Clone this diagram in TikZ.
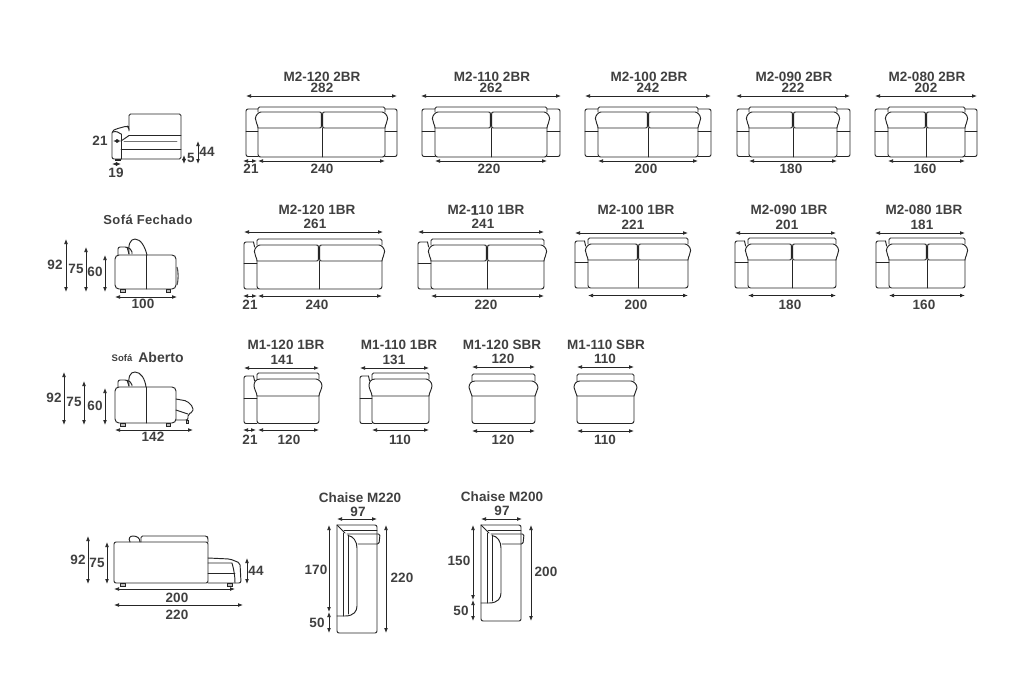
\documentclass[tikz,border=0pt]{standalone}
\usepackage{fontspec}
\usetikzlibrary{arrows.meta}
\setmainfont{Liberation Sans}
\newfontfamily\labfont{Liberation Sans Bold}[LetterSpace=0.3]
\newfontfamily\widefont{Liberation Sans Bold}[LetterSpace=3]
\newfontfamily\truebold{Liberation Sans Bold}[FakeBold=2,LetterSpace=0.3]
\newcounter{lbn}
\tikzset{
  ln/.style={draw=black!85,line width=0.95pt,line join=round,line cap=round},
  dimline/.style={draw=black!85,line width=0.75pt,{Latex[length=5pt,width=3.8pt]}-{Latex[length=5pt,width=3.8pt]}},
  lab/.style={inner sep=0pt,text=black!75,font=\fontsize{13.5}{14}\selectfont\labfont},
  foot/.style={draw=black!85,line width=0.7pt,fill=black!25}
}
% label
\newcommand\lb[3]{\stepcounter{lbn}\node[lab] (t\thelbn) at (#1,#2) {#3};}
% dimensions
\newcommand\dimh[3]{\draw[dimline] (#1,#3) -- (#2,#3);}
\newcommand\dimv[3]{\draw[dimline] (#1,#2) -- (#1,#3);}
% back + seat: IL, IR, ytop, ycush, yseat, ybot
\newcommand\backseat[6]{%
  \draw[ln,rounded corners=1.5pt] (#1,#4) -- (#1,#3) -- (#2,#3) -- (#2,#4);
  \draw[ln,rounded corners=2.5pt] (#1,#5) -- (#1,#6) -- (#2,#6) -- (#2,#5);
}
% two cushions: IL, M, IR, yc, ys, ybot
\newcommand\twocush[6]{%
  \draw[ln] (#2-.6,#5-2) -- (#2-.6,#4+2) .. controls (#2-.6,#4+.5) and (#2-1.2,#4) .. (#2-2.5,#4) -- (#1+3,#4)
     .. controls (#1+1,#4) and (#1-2.6,#4+3) .. (#1-2.6,#4+6.5) .. controls (#1-2.6,#4+10) and (#1,#5-3) .. (#1,#5)
     -- (#2-2.5,#5) .. controls (#2-1.2,#5) and (#2-.6,#5-.6) .. (#2-.6,#5-2);
  \draw[ln] (#2+.6,#5-2) -- (#2+.6,#4+2) .. controls (#2+.6,#4+.5) and (#2+1.2,#4) .. (#2+2.5,#4) -- (#3-3,#4)
     .. controls (#3-1,#4) and (#3+2.6,#4+3) .. (#3+2.6,#4+6.5) .. controls (#3+2.6,#4+10) and (#3,#5-3) .. (#3,#5)
     -- (#2+2.5,#5) .. controls (#2+1.2,#5) and (#2+.6,#5-.6) .. (#2+.6,#5-2);
  \draw[ln] (#2,#5) -- (#2,#6);
}
% one cushion: IL, IR, yc, ys
\newcommand\onecush[4]{%
  \draw[ln] (#1+3,#3) -- (#2-3,#3) .. controls (#2-1,#3) and (#2+3,#3+3) .. (#2+3,#3+6.5) .. controls (#2+3,#3+10) and (#2,#4-3) .. (#2,#4)
    -- (#1,#4) .. controls (#1,#4-3) and (#1-3,#3+10) .. (#1-3,#3+6.5) .. controls (#1-3,#3+3) and (#1-1,#3) .. (#1+3,#3) -- cycle;
}
% arm of a 2BR sofa: outer, inner
\newcommand\armtwo[2]{%
  \draw[ln,rounded corners=2pt] (#2,109) -- (#1,109) -- (#1,156.5) -- (#2,156.5);
  \draw[ln] (#1,131.5) -- (#2,131.5);
}
% arm of a 1BR sofa: L, IL, atop, adiv, ybot
\newcommand\armone[5]{%
  \draw[ln,rounded corners=2pt] (#2-3.5,#3) -- (#1,#3) -- (#1,#5) -- (#2,#5);
  \draw[ln] (#2-3.5,#3) -- (#2-2.4,#3+5);
  \draw[ln] (#1,#4) -- (#2,#4);
}
% complete 2BR
\newcommand\sofatwo[5]{%
  \armtwo{#1}{#2}\armtwo{#5}{#4}
  \backseat{#2}{#4}{107}{112}{128}{157}
  \twocush{#2}{#3}{#4}{112}{128}{157}
}
% complete 1BR with y shift
\newcommand\sofaone[5]{%
  \armone{#1}{#2}{#5+3}{#5+24.5}{#5+50}
  \backseat{#2}{#4}{#5}{#5+6}{#5+22}{#5+50}
  \twocush{#2}{#3}{#4}{#5+6}{#5+22}{#5+50}
}
% chaise: x0, y of left bottom, y bottom
\newcommand\chaise[3]{%
  \draw[ln,rounded corners=2pt] (#1,525) -- (#1+40,525) -- (#1+40,#3) -- (#1,#3) -- (#1,525);
  \draw[ln] (#1,525) -- (#1+8,533);
  \draw[ln] (#1+7,530) -- (#1+40,530);
  \draw[ln,rounded corners=1.5pt] (#1+10,534) -- (#1+43,534) -- (#1+42,544) -- (#1+21,544);
  \draw[ln] (#1+6,533) -- (#1+6,#2);
  \draw[ln] (#1+11,535) -- (#1+11,#2-2);
  \draw[ln] (#1+11,535.5) .. controls (#1+16,536) and (#1+20,541) .. (#1+20,548) -- (#1+20,#2-10)
     .. controls (#1+20,#2-5) and (#1+17,#2) .. (#1+8,#2) -- (#1,#2);
}
\begin{document}
\begin{tikzpicture}[x=1pt,y=-1pt]
\useasboundingbox (0,0) rectangle (1024,694);
\fill[white] (0,0) rectangle (1024,694);

% ---------- row 1
\lb{322}{77}{M2-120 2BR}\lb{322}{88}{282}
\dimh{246}{397}{96}
\sofatwo{246}{258}{322}{385}{397}
\dimh{243}{257}{161}\dimh{258}{385}{161}
\lb{251}{169}{21}\lb{322}{169}{240}

\lb{492}{77}{M2-110 2BR}\lb{491}{88}{262}
\dimh{421}{561}{96}
\sofatwo{422}{435}{491}{547}{560}
\dimh{435}{547}{161}\lb{489}{169}{220}

\lb{649}{77}{M2-100 2BR}\lb{648}{88}{242}
\dimh{585}{711}{96}
\sofatwo{585}{598}{648}{698}{711}
\dimh{598}{698}{161}\lb{646}{169}{200}

\lb{794}{77}{M2-090 2BR}\lb{793}{88}{222}
\dimh{736}{850}{96}
\sofatwo{737}{749}{793}{837}{850}
\dimh{749}{837}{161}\lb{791}{169}{180}

\lb{927}{77}{M2-080 2BR}\lb{926}{88}{202}
\dimh{875}{977}{96}
\sofatwo{875}{888}{926}{965}{977}
\dimh{888}{965}{161}\lb{925}{169}{160}

% ---------- side view top left
\draw[ln,rounded corners=1.5pt] (129,130) -- (129,114) -- (181,114) -- (181,159) -- (121,159);
\draw[ln,rounded corners=2pt] (121,159) -- (112,159) -- (112,131) -- (116,129) -- (127,126) -- (129,127) -- (129,131);
\draw[ln] (121,134) -- (121,159);
\draw[ln] (112.5,132) .. controls (116,131) and (119,132) .. (121,134);
\draw[ln] (129,135.5) -- (181,135.5);
\draw[ln] (121,141) .. controls (124,139) and (127,137) .. (129,135.5);
\draw[ln,draw=black!55] (124,141) -- (177,141);
\draw[ln] (121,149) -- (181,149);
\draw[foot] (115,159) rectangle (120,160.5);
\dimh{113}{121}{141}\lb{100}{141}{21}
\dimh{112}{121}{164}\lb{116}{173}{19}
\dimv{184}{155}{164}\lb{191}{158}{5}
\dimv{198}{141}{164}\lb{207}{152}{44}

% ---------- row 2
\lb{317}{210}{M2-120 1BR}\lb{315}{224}{261}
\dimh{244}{383}{232}
\sofaone{244}{257}{319}{382}{239}
\dimh{243}{257}{296}\dimh{258}{382}{296}
\lb{250}{305}{21}\lb{317}{305}{240}

\lb{486}{210}{M2-\mbox{\truebold 1}10 1BR}\lb{483}{224}{241}
\dimh{418}{544}{232}
\sofaone{418}{431}{487}{544}{239}
\dimh{431}{544}{296}\lb{486}{305}{220}

\lb{636}{210}{M2-100 1BR}\lb{633}{225}{221}
\dimh{575}{688}{233}
\sofaone{575}{588}{638}{688}{238}
\dimh{588}{688}{295.5}\lb{636}{305}{200}

\lb{789}{210}{M2-090 1BR}\lb{787}{225}{201}
\dimh{735}{836}{233}
\sofaone{735}{748}{792}{836}{238}
\dimh{748}{836}{295.5}\lb{790}{305}{180}

\lb{924}{210}{M2-080 1BR}\lb{922}{225}{181}
\dimh{875}{965}{233}
\sofaone{876}{889}{927}{965}{238}
\dimh{889}{965}{295.5}\lb{924}{305}{160}

% ---------- Sofa Fechado
\node[lab,font=\fontsize{13}{14}\selectfont\widefont] (fechado) at (148,220) {Sofá Fechado};
\dimv{66}{239}{292}\lb{55}{265}{92}
\dimv{86}{247}{292}\lb{76}{269}{75}
\dimv{105}{255}{292}\lb{95}{272}{60}
\draw[ln,rounded corners=4pt] (115,289) -- (115,255) -- (176,255) -- (176,289) -- cycle;
\draw[ln] (146,255) -- (146,289);
\draw[ln] (129,254) .. controls (128,245) and (130,239) .. (135,239) .. controls (141,239) and (145,247) .. (147,255);
\draw[ln,rounded corners=2pt] (118,255) -- (118,247) -- (127,247) -- (132,250) -- (132,254);
\draw[ln] (127,247) -- (129,254);
\draw[foot] (120,289) rectangle (125,292);
\draw[foot] (166,289) rectangle (170.5,292);
\draw[line width=1.1pt,draw=black!70] (177,267) .. controls (178.5,272) and (178.5,280) .. (177,285);
\dimh{115}{177}{297}\lb{143}{304}{100}

% ---------- row 3
\lb{286}{345}{M1-120 1BR}\lb{282}{360}{141}
\dimh{244}{319}{368}
\armone{244}{257}{376}{398}{423.5}
\backseat{257}{319}{373}{379}{396}{423.5}
\onecush{257}{319}{379}{396}
\dimh{243}{256}{430}\dimh{258}{319}{430}
\lb{250}{440}{21}\lb{289}{440}{120}

\lb{399}{345}{M1-110 1BR}\lb{394}{360}{131}
\dimh{360}{429}{368}
\armone{360}{372}{376}{398}{423.5}
\backseat{372}{429}{373}{379}{396}{423.5}
\onecush{372}{429}{379}{396}
\dimh{372}{429}{430}\lb{400}{440}{110}

\lb{502}{345}{M1-120 SBR}\lb{503}{359}{120}
\dimh{472}{535}{367}
\backseat{472}{535}{374}{381}{396}{423.5}
\onecush{472}{535}{381}{396}
\dimh{472}{535}{431}\lb{503}{440}{120}

\lb{606}{345}{M1-110 SBR}\lb{605}{359}{110}
\dimh{577}{634}{367}
\backseat{577}{634}{374}{381}{396}{423.5}
\onecush{577}{634}{381}{396}
\dimh{577}{634}{431}\lb{605}{440}{110}

% ---------- Sofa Aberto
\node[lab,font=\fontsize{9.5}{11}\selectfont\labfont] (sofa) at (122,358) {Sofá};
\node[lab,font=\fontsize{14}{15}\selectfont\labfont] (aberto) at (161,357) {Aberto};
\dimv{64}{372}{425}\lb{54}{398}{92}
\dimv{84}{381}{425}\lb{74}{402}{75}
\dimv{105}{388}{425}\lb{95}{406}{60}
\draw[ln,rounded corners=4pt] (115,423) -- (115,387) -- (176,387) -- (176,423) -- cycle;
\draw[ln] (146,387) -- (146,423);
\draw[ln] (129,386) .. controls (128,377) and (130,372) .. (135,372) .. controls (141,372) and (145,379) .. (146,387);
\draw[ln,rounded corners=2pt] (118,387) -- (118,380) -- (127,380) -- (132,383) -- (132,386);
\draw[ln] (127,380) -- (129,386);
\draw[ln,rounded corners=2pt] (176,399) -- (187,401) -- (193,407) -- (193,412) -- (188,414) -- (188,420) -- (176,420);
\draw[ln] (176,410) -- (188,414);
\draw[foot] (120,423) rectangle (125,426);
\draw[foot] (166,423) rectangle (170,426);
\draw[foot] (186,420) rectangle (188.5,423);
\dimh{115}{193}{430}\lb{153}{437}{142}

% ---------- bottom side view
\draw[ln,rounded corners=2pt] (114,583) -- (114,542) -- (208,542) -- (208,583) -- cycle;
\draw[ln,rounded corners=1.5pt] (141,542) -- (141,536) -- (207,536) -- (208,538) -- (208,542);
\draw[ln] (130,542) .. controls (128,538) and (130,536) .. (133,536) .. controls (137,536) and (140,538) .. (140,542);
\draw[ln,rounded corners=2pt] (208,558) -- (230,559) -- (240,563) -- (241,583) -- (208,583);
\draw[ln] (208,563) -- (232,563) .. controls (234,570) and (235,576) .. (235,583);
\draw[ln] (208,573) -- (235,573);
\draw[foot] (120,583) rectangle (125,586);
\draw[foot] (227,583) rectangle (232,586);
\dimv{88}{536}{584}\lb{78}{560}{92}
\dimv{107}{542}{584}\lb{97}{563}{75}
\dimv{247}{558}{584}\lb{256}{571}{44}
\dimh{114}{235}{589}\lb{177}{598}{200}
\dimh{114}{243}{605}\lb{177}{615}{220}

% ---------- chaises
\lb{360}{498}{Chaise M220}\lb{358}{512}{97}
\dimh{337}{377}{519}
\chaise{337}{616}{633}
\dimv{329}{525}{612}\dimv{329}{612}{633}
\dimv{386}{525}{633}
\lb{316}{570}{170}\lb{317}{623}{50}\lb{402}{578}{220}

\lb{502}{497}{Chaise M200}\lb{502}{511}{97}
\dimh{481}{522}{519}
\chaise{481}{603}{621}
\dimv{473}{525}{600}\dimv{473}{600}{621}
\dimv{531}{525}{621}
\lb{459}{561}{150}\lb{461}{611}{50}\lb{546}{572}{200}
\end{tikzpicture}
\end{document}
